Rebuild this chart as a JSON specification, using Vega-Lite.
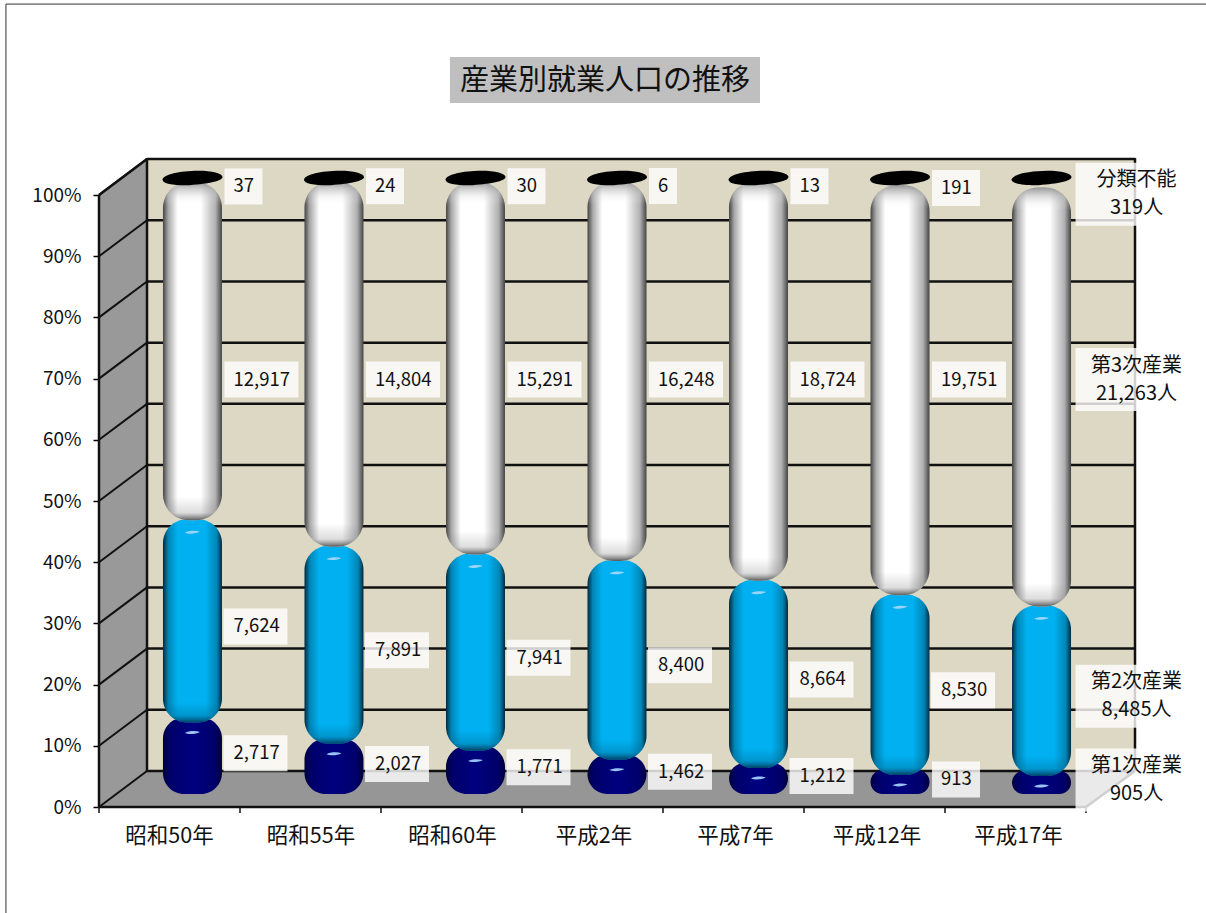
{
"$schema":"https://vega.github.io/schema/vega-lite/v6.json",
"width":1036,"height":649,
"autosize":"none",
"padding":{"left":99,"top":158,"right":71,"bottom":106},
"background":"#ffffff",
"title":{"text":"産業別就業人口の推移","anchor":"start","frame":"group","dx":361,"offset":-92,"fontSize":29,"fontWeight":"normal","font":"Noto Sans CJK JP","color":"#111111","zindex":1},
"config":{"view":{"stroke":null},"font":"Noto Sans CJK JP"},
"resolve":{"scale":{"x":"independent","y":"independent"}},
"layer":[
{"data":{"values":[{}]},
 "mark":{"type":"rect","fill":"#DDD8C3"},
 "encoding":{
  "x":{"datum":0.3404,"scale":{"domain":[0,7.3475],"nice":false,"zero":false},"axis":null},
  "x2":{"datum":7.3475},
  "y":{"datum":5.88,"scale":{"domain":[0,106.05],"nice":false,"zero":false},
       "axis":{"values":[0,10,20,30,40,50,60,70,80,90,100],"labelExpr":"datum.value+'%'","title":null,"domain":false,"grid":false,"tickColor":"#000000","tickSize":6,"tickWidth":1.5,"labelPadding":12,"labelFontSize":19,"labelFont":"Noto Sans CJK JP","labelColor":"#111111"}},
  "y2":{"datum":106.05}}},
{"data":{"values":[{"年":"昭和50年"},{"年":"昭和55年"},{"年":"昭和60年"},{"年":"平成2年"},{"年":"平成7年"},{"年":"平成12年"},{"年":"平成17年"}]},
 "mark":{"type":"rect","fillOpacity":0,"strokeOpacity":0},
 "encoding":{
  "x":{"field":"年","type":"nominal","sort":null,"scale":{"domain":["昭和50年","昭和55年","昭和60年","平成2年","平成7年","平成12年","平成17年"],"paddingInner":0.583,"paddingOuter":0.452},
       "axis":{"title":null,"ticks":false,"domain":false,"grid":false,"labelAngle":0,"labelOffset":-23,"labelPadding":18,"labelFontSize":21.5,"labelFont":"Noto Sans CJK JP","labelColor":"#111111","orient":"bottom"}}}},
{"data":{"values":[{}]},
 "layer":[
 {"data":{"values":[{"奥行":0,"下":0,"上":100},{"奥行":0.3404,"下":5.88,"上":105.88}]},
  "mark":{"type":"area","orient":"vertical","fill":"#999999","stroke":null},
  "encoding":{
   "x":{"field":"奥行","type":"quantitative","scale":{"domain":[0,7.3475],"nice":false,"zero":false},"axis":null},
   "y":{"field":"下","type":"quantitative","stack":null,"scale":{"domain":[0,106.05],"nice":false,"zero":false},"axis":null},
   "y2":{"field":"上"}}},
 {"data":{"values":[{"奥行":0,"下":0,"上":0},{"奥行":0.3404,"下":0,"上":5.88},{"奥行":7,"下":0,"上":5.88},{"奥行":7.3475,"下":5.88,"上":5.88}]},
  "mark":{"type":"area","orient":"vertical","fill":"#969696","stroke":null},
  "encoding":{
   "x":{"field":"奥行","type":"quantitative","scale":{"domain":[0,7.3475],"nice":false,"zero":false},"axis":null},
   "y":{"field":"下","type":"quantitative","stack":null,"scale":{"domain":[0,106.05],"nice":false,"zero":false},"axis":null},
   "y2":{"field":"上"}}},
 {"data":{"values":[{"p":0},{"p":10},{"p":20},{"p":30},{"p":40},{"p":50},{"p":60},{"p":70},{"p":80},{"p":90},{"p":100}]},
  "transform":[{"calculate":"datum.p+5.88","as":"q"}],
  "layer":[
  {"mark":{"type":"rule","color":"#111111","strokeWidth":2.5},
   "encoding":{
    "x":{"datum":0.3404,"scale":{"domain":[0,7.3475],"nice":false,"zero":false},"axis":null},
    "x2":{"datum":7.3475},
    "y":{"field":"q","type":"quantitative","scale":{"domain":[0,106.05],"nice":false,"zero":false},"axis":null}}},
  {"mark":{"type":"rule","color":"#111111","strokeWidth":2},
   "encoding":{
    "x":{"datum":0,"scale":{"domain":[0,7.3475],"nice":false,"zero":false},"axis":null},
    "x2":{"datum":0.3404},
    "y":{"field":"p","type":"quantitative","scale":{"domain":[0,106.05],"nice":false,"zero":false},"axis":null},
    "y2":{"field":"q"}}}
  ]},
 {"data":{"values":[{"k":0},{"k":1},{"k":2},{"k":3},{"k":4},{"k":5},{"k":6},{"k":7}]},
  "mark":{"type":"rule","color":"#111111","strokeWidth":1.5},
  "encoding":{
   "x":{"field":"k","type":"quantitative","scale":{"domain":[0,7.3475],"nice":false,"zero":false},"axis":null},
   "y":{"datum":0,"scale":{"domain":[0,106.05],"nice":false,"zero":false},"axis":null},
   "y2":{"datum":-1}}},
 {"data":{"values":[{"x":0,"x2":0,"y":0,"y2":100},{"x":0.3404,"x2":0.3404,"y":5.88,"y2":106.05},{"x":7.3475,"x2":7.3475,"y":5.88,"y2":106.05},{"x":0,"x2":7,"y":0,"y2":0},{"x":7,"x2":7.3475,"y":0,"y2":5.88},{"x":0,"x2":0.3404,"y":100,"y2":105.88}]},
  "mark":{"type":"rule","color":"#111111","strokeWidth":2.5},
  "encoding":{
   "x":{"field":"x","type":"quantitative","scale":{"domain":[0,7.3475],"nice":false,"zero":false},"axis":null},
   "x2":{"field":"x2"},
   "y":{"field":"y","type":"quantitative","scale":{"domain":[0,106.05],"nice":false,"zero":false},"axis":null},
   "y2":{"field":"y2"}}},
 {"data":{"values":[{"x":-0.66,"x2":-0.66,"y":-17.4,"y2":131.2},{"x":-0.66,"x2":7.86,"y":131.2,"y2":131.2}]},
  "mark":{"type":"rule","color":"#333333","strokeWidth":1},
  "encoding":{
   "x":{"field":"x","type":"quantitative","scale":{"domain":[0,7.3475],"nice":false,"zero":false},"axis":null},
   "x2":{"field":"x2"},
   "y":{"field":"y","type":"quantitative","scale":{"domain":[0,106.05],"nice":false,"zero":false},"axis":null},
   "y2":{"field":"y2"}}},
 {"mark":{"type":"rect","fill":"#BFBFBF"},
  "encoding":{
   "x":{"datum":2.489,"scale":{"domain":[0,7.3475],"nice":false,"zero":false},"axis":null},
   "x2":{"datum":4.688},
   "y":{"datum":115.03,"scale":{"domain":[0,106.05],"nice":false,"zero":false},"axis":null},
   "y2":{"datum":122.55}}}
 ]},
{"data":{"values":[
 {"年":"昭和50年","産業":"第1次産業","順":1,"人数":2717},{"年":"昭和50年","産業":"第2次産業","順":2,"人数":7624},{"年":"昭和50年","産業":"第3次産業","順":3,"人数":12917},{"年":"昭和50年","産業":"分類不能","順":4,"人数":37},
 {"年":"昭和55年","産業":"第1次産業","順":1,"人数":2027},{"年":"昭和55年","産業":"第2次産業","順":2,"人数":7891},{"年":"昭和55年","産業":"第3次産業","順":3,"人数":14804},{"年":"昭和55年","産業":"分類不能","順":4,"人数":24},
 {"年":"昭和60年","産業":"第1次産業","順":1,"人数":1771},{"年":"昭和60年","産業":"第2次産業","順":2,"人数":7941},{"年":"昭和60年","産業":"第3次産業","順":3,"人数":15291},{"年":"昭和60年","産業":"分類不能","順":4,"人数":30},
 {"年":"平成2年","産業":"第1次産業","順":1,"人数":1462},{"年":"平成2年","産業":"第2次産業","順":2,"人数":8400},{"年":"平成2年","産業":"第3次産業","順":3,"人数":16248},{"年":"平成2年","産業":"分類不能","順":4,"人数":6},
 {"年":"平成7年","産業":"第1次産業","順":1,"人数":1212},{"年":"平成7年","産業":"第2次産業","順":2,"人数":8664},{"年":"平成7年","産業":"第3次産業","順":3,"人数":18724},{"年":"平成7年","産業":"分類不能","順":4,"人数":13},
 {"年":"平成12年","産業":"第1次産業","順":1,"人数":913},{"年":"平成12年","産業":"第2次産業","順":2,"人数":8530},{"年":"平成12年","産業":"第3次産業","順":3,"人数":19751},{"年":"平成12年","産業":"分類不能","順":4,"人数":191},
 {"年":"平成17年","産業":"第1次産業","順":1,"人数":905},{"年":"平成17年","産業":"第2次産業","順":2,"人数":8485},{"年":"平成17年","産業":"第3次産業","順":3,"人数":21263},{"年":"平成17年","産業":"分類不能","順":4,"人数":319}
 ]},
 "transform":[
  {"stack":"人数","groupby":["年"],"sort":[{"field":"順","order":"ascending"}],"offset":"normalize","as":["y0","y1"]},
  {"calculate":"datum.順==3 ? 0.669 : (datum.順==4 && datum.年=='平成17年') ? 0.972 : (datum.y0+datum.y1)/2 - (datum.順==1 ? 0 : 0.0147)","as":"ly"},
  {"calculate":"datum.年=='平成17年' ? datum.産業+'\\n'+format(datum.人数,',')+'人' : format(datum.人数,',')","as":"ラベル"},
  {"calculate":"length(format(datum.人数,','))","as":"桁"}
 ],
 "layer":[
 {"transform":[{"filter":"datum.順==1"}],
  "mark":{"type":"rect","cornerRadius":21,"yOffset":0,"y2Offset":5,"fill":{"gradient":"linear","x1":0,"x2":1,"y1":0,"y2":0,"stops":[{"offset":0,"color":"#00003c"},{"offset":0.12,"color":"#00006a"},{"offset":0.5,"color":"#000080"},{"offset":0.88,"color":"#00006a"},{"offset":1,"color":"#00003c"}]}},
  "encoding":{
   "x":{"field":"年","type":"nominal","sort":null,"scale":{"domain":["昭和50年","昭和55年","昭和60年","平成2年","平成7年","平成12年","平成17年"],"paddingInner":0.583,"paddingOuter":0.452},"axis":null},
   "y":{"field":"y1","type":"quantitative","scale":{"domain":[-0.02941,1.03105],"nice":false,"zero":false},"axis":null},
   "y2":{"field":"y0"}}},
 {"transform":[{"filter":"datum.順==2"}],
  "mark":{"type":"rect","cornerRadius":24,"yOffset":2,"y2Offset":5,"fill":{"gradient":"linear","x1":0,"x2":1,"y1":0,"y2":0,"stops":[{"offset":0,"color":"#002a40"},{"offset":0.09,"color":"#0085b5"},{"offset":0.25,"color":"#00B0F0"},{"offset":0.72,"color":"#00B0F0"},{"offset":0.91,"color":"#0085b5"},{"offset":1,"color":"#002a40"}]}},
  "encoding":{
   "x":{"field":"年","type":"nominal","sort":null,"scale":{"domain":["昭和50年","昭和55年","昭和60年","平成2年","平成7年","平成12年","平成17年"],"paddingInner":0.583,"paddingOuter":0.452},"axis":null},
   "y":{"field":"y1","type":"quantitative","scale":{"domain":[-0.02941,1.03105],"nice":false,"zero":false},"axis":null},
   "y2":{"field":"y0"}}},
 {"transform":[{"filter":"datum.順==2"}],
  "mark":{"type":"rect","height":50,"width":59,"cornerRadius":24,"yOffset":-20,"fill":{"gradient":"linear","x1":0,"x2":0,"y1":0,"y2":1,"stops":[{"offset":0,"color":"rgba(0,80,120,0)"},{"offset":0.6,"color":"rgba(0,90,130,0)"},{"offset":0.85,"color":"rgba(0,90,130,0.3)"},{"offset":1,"color":"rgba(0,50,80,0.9)"}]}},
  "encoding":{
   "x":{"field":"年","type":"nominal","sort":null,"scale":{"domain":["昭和50年","昭和55年","昭和60年","平成2年","平成7年","平成12年","平成17年"],"paddingInner":0.583,"paddingOuter":0.452},"axis":null},
   "y":{"field":"y0","type":"quantitative","scale":{"domain":[-0.02941,1.03105],"nice":false,"zero":false},"axis":null}}},
 {"transform":[{"filter":"datum.順==3"}],
  "mark":{"type":"rect","cornerRadius":26,"yOffset":4,"y2Offset":3,"fill":{"gradient":"linear","x1":0,"x2":1,"y1":0,"y2":0,"stops":[{"offset":0,"color":"#444444"},{"offset":0.09,"color":"#a8a8a8"},{"offset":0.25,"color":"#ffffff"},{"offset":0.64,"color":"#ffffff"},{"offset":0.89,"color":"#b0b0b0"},{"offset":1,"color":"#444444"}]}},
  "encoding":{
   "x":{"field":"年","type":"nominal","sort":null,"scale":{"domain":["昭和50年","昭和55年","昭和60年","平成2年","平成7年","平成12年","平成17年"],"paddingInner":0.583,"paddingOuter":0.452},"axis":null},
   "y":{"field":"y1","type":"quantitative","scale":{"domain":[-0.02941,1.03105],"nice":false,"zero":false},"axis":null},
   "y2":{"field":"y0"}}},
 {"transform":[{"filter":"datum.順==3"}],
  "mark":{"type":"rect","height":52,"width":59,"cornerRadius":26,"yOffset":-23,"fill":{"gradient":"linear","x1":0,"x2":0,"y1":0,"y2":1,"stops":[{"offset":0,"color":"rgba(120,120,120,0)"},{"offset":0.55,"color":"rgba(120,120,120,0)"},{"offset":0.85,"color":"rgba(120,120,120,0.25)"},{"offset":1,"color":"rgba(60,60,60,0.85)"}]}},
  "encoding":{
   "x":{"field":"年","type":"nominal","sort":null,"scale":{"domain":["昭和50年","昭和55年","昭和60年","平成2年","平成7年","平成12年","平成17年"],"paddingInner":0.583,"paddingOuter":0.452},"axis":null},
   "y":{"field":"y0","type":"quantitative","scale":{"domain":[-0.02941,1.03105],"nice":false,"zero":false},"axis":null}}},
 {"transform":[{"filter":"datum.順==3"}],
  "mark":{"type":"rect","height":52,"width":59,"cornerRadius":26,"yOffset":30,"fill":{"gradient":"linear","x1":0,"x2":0,"y1":0,"y2":1,"stops":[{"offset":0,"color":"rgba(130,130,130,0.85)"},{"offset":0.3,"color":"rgba(210,210,210,0.2)"},{"offset":0.45,"color":"rgba(255,255,255,0)"},{"offset":1,"color":"rgba(255,255,255,0)"}]}},
  "encoding":{
   "x":{"field":"年","type":"nominal","sort":null,"scale":{"domain":["昭和50年","昭和55年","昭和60年","平成2年","平成7年","平成12年","平成17年"],"paddingInner":0.583,"paddingOuter":0.452},"axis":null},
   "y":{"field":"y1","type":"quantitative","scale":{"domain":[-0.02941,1.03105],"nice":false,"zero":false},"axis":null}}},
 {"transform":[{"filter":"datum.順==4"}],
  "mark":{"type":"point","filled":true,"opacity":1,"color":"#000000","size":3600,"yOffset":1,"shape":"M-1,0.05C-0.95,-0.12 -0.45,-0.23 0.2,-0.24C0.65,-0.24 1,-0.15 1,-0.03C1,0.1 0.55,0.2 -0.1,0.24C-0.6,0.25 -1,0.2 -1,0.05Z"},
  "encoding":{
   "x":{"field":"年","type":"nominal","sort":null,"scale":{"domain":["昭和50年","昭和55年","昭和60年","平成2年","平成7年","平成12年","平成17年"],"paddingInner":0.583,"paddingOuter":0.452},"axis":null},
   "y":{"field":"y1","type":"quantitative","scale":{"domain":[-0.02941,1.03105],"nice":false,"zero":false},"axis":null}}},
 {"transform":[{"filter":"datum.順==1 || datum.順==2"}],
  "mark":{"type":"point","filled":true,"opacity":0.9,"color":"#A8D8FF","size":220,"yOffset":15,"shape":"M-1,0.05C-0.6,-0.22 0.4,-0.28 1,-0.1C0.5,0.22 -0.5,0.28 -1,0.05Z"},
  "encoding":{
   "x":{"field":"年","type":"nominal","sort":null,"scale":{"domain":["昭和50年","昭和55年","昭和60年","平成2年","平成7年","平成12年","平成17年"],"paddingInner":0.583,"paddingOuter":0.452},"axis":null},
   "y":{"field":"y1","type":"quantitative","scale":{"domain":[-0.02941,1.03105],"nice":false,"zero":false},"axis":null}}},
 {"transform":[{"filter":"datum.年!='平成17年' && datum.桁==6"}],
  "mark":{"type":"rect","width":74,"height":36,"xOffset":69,"fill":"#ffffff","fillOpacity":0.8},
  "encoding":{
   "x":{"field":"年","type":"nominal","sort":null,"scale":{"domain":["昭和50年","昭和55年","昭和60年","平成2年","平成7年","平成12年","平成17年"],"paddingInner":0.583,"paddingOuter":0.452},"axis":null},
   "y":{"field":"ly","type":"quantitative","scale":{"domain":[-0.02941,1.03105],"nice":false,"zero":false},"axis":null}}},
 {"transform":[{"filter":"datum.年!='平成17年' && datum.桁==5"}],
  "mark":{"type":"rect","width":64,"height":36,"xOffset":63,"fill":"#ffffff","fillOpacity":0.8},
  "encoding":{
   "x":{"field":"年","type":"nominal","sort":null,"scale":{"domain":["昭和50年","昭和55年","昭和60年","平成2年","平成7年","平成12年","平成17年"],"paddingInner":0.583,"paddingOuter":0.452},"axis":null},
   "y":{"field":"ly","type":"quantitative","scale":{"domain":[-0.02941,1.03105],"nice":false,"zero":false},"axis":null}}},
 {"transform":[{"filter":"datum.年!='平成17年' && datum.桁==3"}],
  "mark":{"type":"rect","width":48,"height":36,"xOffset":56,"fill":"#ffffff","fillOpacity":0.8},
  "encoding":{
   "x":{"field":"年","type":"nominal","sort":null,"scale":{"domain":["昭和50年","昭和55年","昭和60年","平成2年","平成7年","平成12年","平成17年"],"paddingInner":0.583,"paddingOuter":0.452},"axis":null},
   "y":{"field":"ly","type":"quantitative","scale":{"domain":[-0.02941,1.03105],"nice":false,"zero":false},"axis":null}}},
 {"transform":[{"filter":"datum.年!='平成17年' && datum.桁==2"}],
  "mark":{"type":"rect","width":38,"height":36,"xOffset":51,"fill":"#ffffff","fillOpacity":0.8},
  "encoding":{
   "x":{"field":"年","type":"nominal","sort":null,"scale":{"domain":["昭和50年","昭和55年","昭和60年","平成2年","平成7年","平成12年","平成17年"],"paddingInner":0.583,"paddingOuter":0.452},"axis":null},
   "y":{"field":"ly","type":"quantitative","scale":{"domain":[-0.02941,1.03105],"nice":false,"zero":false},"axis":null}}},
 {"transform":[{"filter":"datum.年!='平成17年' && datum.桁==1"}],
  "mark":{"type":"rect","width":28,"height":36,"xOffset":46,"fill":"#ffffff","fillOpacity":0.8},
  "encoding":{
   "x":{"field":"年","type":"nominal","sort":null,"scale":{"domain":["昭和50年","昭和55年","昭和60年","平成2年","平成7年","平成12年","平成17年"],"paddingInner":0.583,"paddingOuter":0.452},"axis":null},
   "y":{"field":"ly","type":"quantitative","scale":{"domain":[-0.02941,1.03105],"nice":false,"zero":false},"axis":null}}},
 {"transform":[{"filter":"datum.年=='平成17年'"}],
  "mark":{"type":"rect","width":122,"height":63,"xOffset":95,"fill":"#ffffff","fillOpacity":0.8},
  "encoding":{
   "x":{"field":"年","type":"nominal","sort":null,"scale":{"domain":["昭和50年","昭和55年","昭和60年","平成2年","平成7年","平成12年","平成17年"],"paddingInner":0.583,"paddingOuter":0.452},"axis":null},
   "y":{"field":"ly","type":"quantitative","scale":{"domain":[-0.02941,1.03105],"nice":false,"zero":false},"axis":null}}},
 {"transform":[{"filter":"datum.年!='平成17年'"}],
  "mark":{"type":"text","align":"left","baseline":"middle","dx":41,"fontSize":18.5,"font":"Noto Sans CJK JP","color":"#111111"},
  "encoding":{
   "x":{"field":"年","type":"nominal","sort":null,"scale":{"domain":["昭和50年","昭和55年","昭和60年","平成2年","平成7年","平成12年","平成17年"],"paddingInner":0.583,"paddingOuter":0.452},"axis":null},
   "y":{"field":"ly","type":"quantitative","scale":{"domain":[-0.02941,1.03105],"nice":false,"zero":false},"axis":null},
   "text":{"field":"ラベル","type":"nominal"}}},
 {"transform":[{"filter":"datum.年=='平成17年'"}],
  "mark":{"type":"text","align":"center","baseline":"middle","dx":95,"dy":-14,"fontSize":20,"lineBreak":"\n","lineHeight":28,"font":"Noto Sans CJK JP","color":"#111111"},
  "encoding":{
   "x":{"field":"年","type":"nominal","sort":null,"scale":{"domain":["昭和50年","昭和55年","昭和60年","平成2年","平成7年","平成12年","平成17年"],"paddingInner":0.583,"paddingOuter":0.452},"axis":null},
   "y":{"field":"ly","type":"quantitative","scale":{"domain":[-0.02941,1.03105],"nice":false,"zero":false},"axis":null},
   "text":{"field":"ラベル","type":"nominal"}}}
 ]}
]}
